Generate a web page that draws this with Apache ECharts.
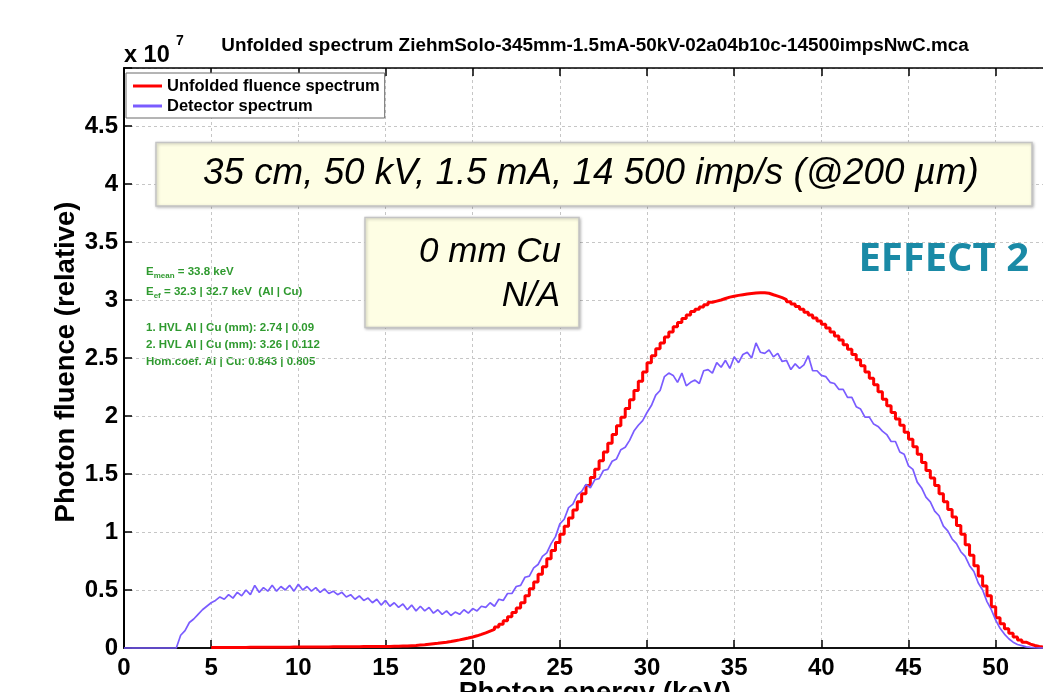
<!DOCTYPE html>
<html>
<head>
<meta charset="utf-8">
<script src="https://cdn.jsdelivr.net/npm/echarts@6/dist/echarts.min.js"></script>
<style>
  html, body { margin: 0; padding: 0; background: #fff; }
  #chart { width: 1043px; height: 692px; }
</style>
</head>
<body>
<div id="chart"></div>
<script>
// Spectrum channels are 0.25 keV wide; values are in units of 1e7 (relative fluence).
const binKeV = 0.25;
const fluenceStartKeV = 5;
const detectorStartKeV = 0;
const energyViewMaxKeV = 53;

// Unfolded fluence spectrum, 5.00 ... 52.75 keV
const unfoldedFluence = [
  0.004, 0.004, 0.004, 0.005,   0.005, 0.005, 0.005, 0.005,
  0.006, 0.006, 0.006, 0.006,   0.006, 0.007, 0.007, 0.007,
  0.007, 0.007, 0.008, 0.008,   0.008, 0.008, 0.008, 0.009,
  0.009, 0.009, 0.009, 0.010,   0.010, 0.010, 0.010, 0.011,
  0.011, 0.011, 0.012, 0.012,   0.012, 0.013, 0.013, 0.014,
  0.014, 0.015, 0.016, 0.017,   0.018, 0.020, 0.022, 0.025,
  0.028, 0.032, 0.036, 0.040,   0.045, 0.050, 0.056, 0.063,
  0.070, 0.078, 0.086, 0.095,   0.105, 0.117, 0.130, 0.145,
  0.160, 0.180, 0.205, 0.235,   0.270, 0.305, 0.345, 0.390,
  0.450, 0.510, 0.570, 0.635,   0.700, 0.770, 0.840, 0.910,
  0.980, 1.050, 1.120, 1.190,   1.260, 1.330, 1.400, 1.470,
  1.540, 1.615, 1.690, 1.765,   1.840, 1.915, 1.990, 2.065,
  2.140, 2.220, 2.300, 2.380,   2.460, 2.520, 2.580, 2.630,
  2.680, 2.725, 2.770, 2.805,   2.840, 2.870, 2.900, 2.920,
  2.940, 2.960, 2.980, 2.990,   3.000, 3.013, 3.025, 3.033,
  3.040, 3.046, 3.052, 3.056,   3.060, 3.062, 3.062, 3.058,
  3.045, 3.033, 3.020, 3.003,   2.985, 2.965, 2.945, 2.920,
  2.895, 2.870, 2.845, 2.818,   2.790, 2.758, 2.725, 2.690,
  2.655, 2.615, 2.575, 2.530,   2.485, 2.433, 2.380, 2.325,
  2.270, 2.208, 2.145, 2.088,   2.030, 1.975, 1.920, 1.860,
  1.800, 1.735, 1.670, 1.600,   1.530, 1.465, 1.400, 1.330,
  1.260, 1.195, 1.130, 1.055,   0.980, 0.890, 0.800, 0.710,
  0.620, 0.535, 0.450, 0.355,   0.260, 0.210, 0.165, 0.128,
  0.095, 0.070, 0.050, 0.034,   0.022, 0.014, 0.008, 0.005
];

// Measured detector spectrum, 0.00 ... 52.75 keV
const detectorSpectrum = [
  0, 0, 0, 0,                   0, 0, 0, 0,
  0, 0, 0, 0,                   0, 0.11, 0.15, 0.22,
  0.25, 0.29, 0.33, 0.36,       0.39, 0.41, 0.44, 0.42,
  0.46, 0.43, 0.48, 0.45,       0.50, 0.46, 0.54, 0.48,
  0.52, 0.49, 0.54, 0.49,       0.53, 0.50, 0.54, 0.49,
  0.55, 0.50, 0.53, 0.49,       0.52, 0.48, 0.51, 0.47,
  0.49, 0.46, 0.48, 0.44,       0.46, 0.42, 0.45, 0.41,
  0.43, 0.39, 0.42, 0.37,       0.41, 0.36, 0.39, 0.35,
  0.38, 0.33, 0.37, 0.32,       0.36, 0.32, 0.35, 0.30,
  0.33, 0.29, 0.32, 0.28,       0.31, 0.29, 0.33, 0.30,
  0.34, 0.32, 0.36, 0.35,       0.39, 0.36, 0.42, 0.41,
  0.47, 0.47, 0.53, 0.54,       0.61, 0.62, 0.69, 0.72,
  0.79, 0.82, 0.90, 0.96,       1.07, 1.11, 1.21, 1.24,
  1.32, 1.35, 1.41, 1.38,       1.45, 1.46, 1.53, 1.54,
  1.61, 1.63, 1.71, 1.73,       1.79, 1.87, 1.92, 1.96,
  2.03, 2.09, 2.18, 2.22,       2.34, 2.37, 2.35, 2.29,
  2.37, 2.26, 2.29, 2.31,       2.28, 2.39, 2.40, 2.37,
  2.46, 2.42, 2.48, 2.41,       2.51, 2.46, 2.53, 2.55,
  2.50, 2.63, 2.55, 2.54,       2.57, 2.51, 2.54, 2.47,
  2.48, 2.40, 2.45, 2.41,       2.44, 2.52, 2.39, 2.39,
  2.35, 2.34, 2.29, 2.28,       2.23, 2.23, 2.16, 2.16,
  2.08, 2.06, 1.99, 1.99,       1.93, 1.91, 1.87, 1.84,
  1.78, 1.78, 1.69, 1.67,       1.57, 1.54, 1.43, 1.38,
  1.30, 1.26, 1.18, 1.14,       1.05, 1.01, 0.94, 0.90,
  0.83, 0.79, 0.71, 0.66,       0.56, 0.50, 0.40, 0.33,
  0.24, 0.17, 0.12, 0.08,       0.05, 0.03, 0.02, 0.01,
  0.005, 0.002, 0, 0
];

const xTickLabels = ['0', '5', '10', '15', '20', '25', '30', '35', '40', '45', '50'];
const yTickLabels = ['0', '0.5', '1', '1.5', '2', '2.5', '3', '3.5', '4', '4.5', ''];

const seriesNames = ['Unfolded fluence spectrum', 'Detector spectrum'];
const titleText = 'Unfolded spectrum ZiehmSolo-345mm-1.5mA-50kV-02a04b10c-14500impsNwC.mca';
const xAxisTitle = 'Photon energy (keV)';
const yAxisTitle = 'Photon fluence (relative)';
const setupText = '35 cm, 50 kV, 1.5 mA, 14 500 imp/s (@200 µm)';
const filterLines = ['0 mm Cu', 'N/A'];
const effectText = 'EFFECT 2';
const qualityLines = [
  ['E', 'mean', ' = 33.8 keV'],
  ['E', 'ef', ' = 32.3 | 32.7 keV  (Al | Cu)'],
  ['1. HVL Al | Cu (mm): 2.74 | 0.09'],
  ['2. HVL Al | Cu (mm): 3.26 | 0.112'],
  ['Hom.coef. Al | Cu: 0.843 | 0.805']
];

const FONT = '"Liberation Sans", Arial, Helvetica, sans-serif';
const toPairs = (startKeV, values) => values.map((v, i) => [startKeV + i * binKeV, v]);

const chart = echarts.init(document.getElementById('chart'), null, { renderer: 'canvas' });

const tickStyle = { color: '#000', width: 1.5 };
const gridLineStyle = { color: '#c6c6c6', width: 1, type: [3, 3] };
const green = '#2f9a2f';

// Green spectrum-quality block
const qualityY = [269, 289, 327.5, 345, 362];
const qualityGraphics = qualityLines.map((parts, i) => {
  const text = parts.length === 3
    ? '{m|' + parts[0] + '}{s|' + parts[1] + '}{m|' + parts[2] + '}'
    : '{m|' + parts[0] + '}';
  return {
    type: 'text', x: 146, y: qualityY[i] + (parts.length === 3 ? 2.5 : 0),
    style: {
      text: text, align: 'left', verticalAlign: 'middle',
      rich: {
        m: { fontFamily: FONT, fontWeight: 'bold', fontSize: 11.5, fill: green, lineHeight: 16 },
        s: { fontFamily: FONT, fontWeight: 'bold', fontSize: 8, fill: green, lineHeight: 8, verticalAlign: 'bottom' }
      }
    }
  };
});

const xLabel = (v) => {
  const i = Math.round(v / 5);
  return Math.abs(v - i * 5) < 1e-6 && xTickLabels[i] !== undefined ? xTickLabels[i] : '';
};

const option = {
  animation: false,
  backgroundColor: '#fff',
  // the plot box runs past the right edge of the page
  grid: {
    left: 124, top: 68, right: -5, bottom: 44, show: false,
    containLabel: false, outerBoundsMode: 'none'
  },
  legend: {
    orient: 'vertical', left: 126, top: 73,
    padding: [4, 5, 3, 7],
    itemWidth: 29, itemHeight: 3, itemGap: 2,
    backgroundColor: '#fff', borderColor: '#6a6a6a', borderWidth: 1,
    textStyle: { fontFamily: FONT, fontWeight: 'bold', fontSize: 16.5, color: '#000', lineHeight: 18 },
    data: [
      { name: seriesNames[0], icon: 'rect' },
      { name: seriesNames[1], icon: 'rect' }
    ]
  },
  xAxis: [
    {
      type: 'value', min: 0, max: energyViewMaxKeV, interval: 5, position: 'bottom',
      axisLine: { show: true, onZero: false, lineStyle: { color: '#111', width: 2 } },
      axisTick: { show: true, inside: true, length: 8, lineStyle: tickStyle },
      axisLabel: {
        margin: 8, fontFamily: FONT, fontWeight: 'bold', fontSize: 24, color: '#000',
        formatter: xLabel
      },
      splitLine: { show: true, lineStyle: gridLineStyle }
    },
    {
      type: 'value', min: 0, max: energyViewMaxKeV, interval: 5, position: 'top',
      axisLine: { show: true, onZero: false, lineStyle: { color: '#000', width: 1.5 } },
      axisTick: { show: true, inside: true, length: 8, lineStyle: tickStyle },
      axisLabel: { show: false },
      splitLine: { show: false }
    }
  ],
  yAxis: {
    type: 'value', min: 0, max: 5, interval: 0.5,
    axisLine: { show: true, onZero: false, lineStyle: { color: '#000', width: 2 } },
    axisTick: { show: true, inside: true, length: 8, lineStyle: tickStyle },
    axisLabel: {
      margin: 6, fontFamily: FONT, fontWeight: 'bold', fontSize: 24, color: '#000',
      formatter: (v) => yTickLabels[Math.round(v / 0.5)] ?? ''
    },
    splitLine: { show: true, lineStyle: gridLineStyle }
  },
  series: [
    {
      name: seriesNames[0], type: 'line', step: 'end',
      data: toPairs(fluenceStartKeV, unfoldedFluence),
      showSymbol: false, symbol: 'none', clip: false,
      color: '#ff0000',
      lineStyle: { color: '#ff0000', width: 3 },
      z: 3
    },
    {
      name: seriesNames[1], type: 'line',
      data: toPairs(detectorStartKeV, detectorSpectrum),
      showSymbol: false, symbol: 'none', clip: false,
      color: '#7a5cff',
      lineStyle: { color: '#7a5cff', width: 1.7 },
      z: 4
    }
  ],
  graphic: [
    // chart title
    { type: 'text', x: 595, y: 46, style: {
        text: titleText, align: 'center', verticalAlign: 'middle',
        fontFamily: FONT, fontWeight: 'bold', fontSize: 18.9, fill: '#000' } },
    // axis exponent
    { type: 'text', x: 124, y: 56, style: {
        text: 'x 10', align: 'left', verticalAlign: 'middle',
        fontFamily: FONT, fontWeight: 'bold', fontSize: 23.5, fill: '#000' } },
    { type: 'text', x: 176, y: 41, style: {
        text: '7', align: 'left', verticalAlign: 'middle',
        fontFamily: FONT, fontWeight: 'bold', fontSize: 14, fill: '#000' } },
    // axis titles
    { type: 'text', x: 66, y: 362, rotation: Math.PI / 2, style: {
        text: yAxisTitle, align: 'center', verticalAlign: 'middle',
        fontFamily: FONT, fontWeight: 'bold', fontSize: 27.5, fill: '#000' } },
    { type: 'text', x: 595, y: 693, style: {
        text: xAxisTitle, align: 'center', verticalAlign: 'middle',
        fontFamily: FONT, fontWeight: 'bold', fontSize: 28, fill: '#000' } },
    // acquisition settings box
    { type: 'rect', shape: { x: 156, y: 142.5, width: 876, height: 63.5 }, z: 10, style: {
        fill: '#fefee4', stroke: '#c4c4c4', lineWidth: 1.5,
        shadowBlur: 3, shadowOffsetX: 1, shadowOffsetY: 1, shadowColor: 'rgba(0,0,0,0.25)' } },
    { type: 'text', x: 203, y: 173.5, z: 11, style: {
        text: setupText, align: 'left', verticalAlign: 'middle',
        fontFamily: FONT, fontStyle: 'italic', fontSize: 36.8, fill: '#000' } },
    // filtration box
    { type: 'rect', shape: { x: 365, y: 217.5, width: 214, height: 110 }, z: 10, style: {
        fill: '#fefee4', stroke: '#c4c4c4', lineWidth: 1.5,
        shadowBlur: 3, shadowOffsetX: 1, shadowOffsetY: 1, shadowColor: 'rgba(0,0,0,0.25)' } },
    { type: 'text', x: 561, y: 252, z: 11, style: {
        text: filterLines[0], align: 'right', verticalAlign: 'middle',
        fontFamily: FONT, fontStyle: 'italic', fontSize: 35, fill: '#000' } },
    { type: 'text', x: 560, y: 296.5, z: 11, style: {
        text: filterLines[1], align: 'right', verticalAlign: 'middle',
        fontFamily: FONT, fontStyle: 'italic', fontSize: 35, fill: '#000' } },
    // effect tag
    { type: 'text', x: 1029, y: 260, z: 11, style: {
        text: effectText, align: 'right', verticalAlign: 'middle',
        fontFamily: '"Open Sans", "Noto Sans", sans-serif', fontWeight: 'bold', fontSize: 40, fill: '#1a8aa6' } }
  ].concat(qualityGraphics)
};

chart.setOption(option);
</script>
</body>
</html>
